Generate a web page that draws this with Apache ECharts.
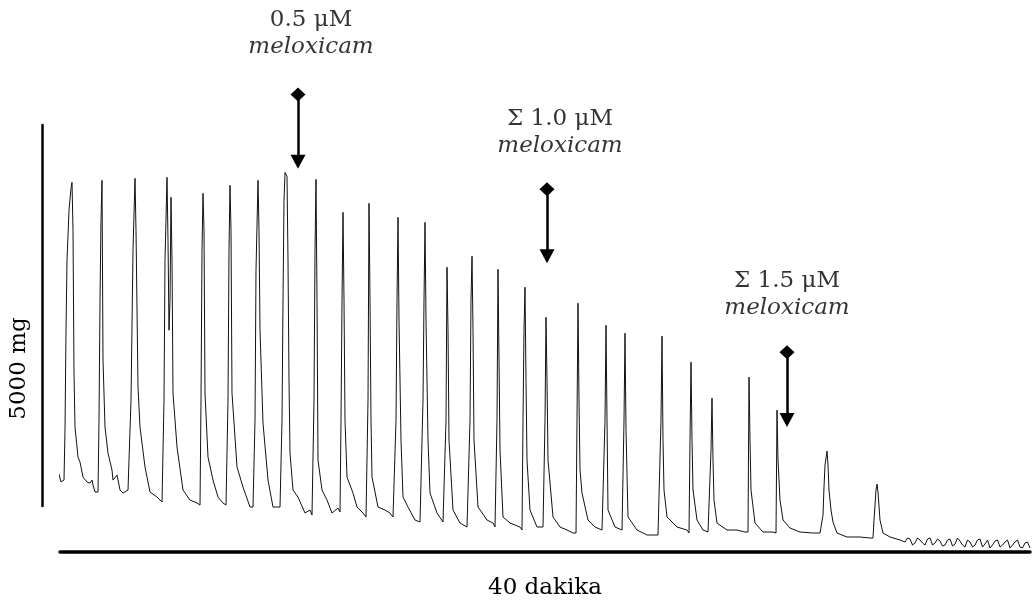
<!DOCTYPE html>
<html>
<head>
<meta charset="utf-8">
<script src="https://cdn.jsdelivr.net/npm/echarts@6/dist/echarts.min.js"></script>
<style>
html,body{margin:0;padding:0;background:#fff;}
#chart{width:1033px;height:609px;}
</style>
</head>
<body>
<div id="chart"></div>
<script>
// Isometric tension trace: [time (s), force (mg)]
const trace = [
[-7.5,962],[-2.5,1014],[2.5,910],[7.5,897],
[10,936],[12.5,1586],[15,2886],[17.5,3796],[22.5,4446],[27.5,4732],[30,4810],[32.5,4186],[35,2327],[37.5,1625],[45,1235],[50,1170],[57.5,975],[67.5,910],[75,897],[80,936],[82.5,871],[87.5,780],[92.5,780],
[95,780],[97.5,1716],[100,3276],[102.5,4316],[105,4836],[107.5,2496],[112.5,1625],[120,1287],[130,1066],[132.5,936],[142.5,1001],[150,806],[157.5,767],[170,806],
[175,806],[177.5,1976],[182.5,3926],[187.5,4862],[190,4186],[195,2145],[200,1625],[212.5,1105],[225,780],[242.5,715],[255,650],
[257.5,676],[260,1976],[262.5,3796],[267.5,4875],[270,4056],[272.5,2886],[275,3276],[277.5,4615],[280,3796],[282.5,2067],[292.5,1365],[307.5,806],[325,676],[342.5,637],
[350,611],[352.5,1976],[355,3926],[357.5,4667],[360,4186],[362.5,2067],[370,1235],[382.5,936],[395,715],[407.5,637],[415,611],
[417.5,611],[420,1976],[422.5,3926],[425,4771],[427.5,4186],[430,2067],[442.5,1105],[457.5,845],[475,585],[482.5,585],
[485,611],[487.5,1716],[490,3666],[495,4836],[497.5,4186],[500,2886],[507.5,1677],[520,936],[532.5,585],[550,585],
[552.5,585],[555,1716],[557.5,3276],[560,4576],[562.5,4940],[567.5,4888],[570,3796],[572.5,2236],[575,1287],[582.5,806],[595,715],[612.5,507],[625,546],[630,481],
[632.5,507],[635,1976],[637.5,3926],[640,4849],[642.5,3276],[645,1196],[655,806],[667.5,676],[680,507],[695,572],[700,520],
[702.5,1716],[705,3276],[707.5,4420],[710,3276],[712.5,1716],[717.5,975],[732.5,767],[742.5,585],[757.5,507],[765,455],
[767.5,455],[770,1976],[772.5,4537],[775,3276],[777.5,1716],[780,975],[795,585],[812.5,546],[825,507],[832.5,455],
[837.5,442],[840,1716],[842.5,3276],[845,4355],[847.5,3016],[852.5,1456],[857.5,715],[870,585],[887.5,416],[900,390],
[905,390],[907.5,1976],[910,3276],[912.5,4290],[915,3016],[920,1456],[925,767],[942.5,507],[957.5,390],
[962.5,390],[965,1716],[967.5,3705],[970,2886],[972.5,1456],[982.5,546],[1000,377],[1017.5,325],
[1022.5,325],[1025,1716],[1027.5,3276],[1030,3848],[1032.5,2886],[1035,1456],[1045,585],[1067.5,416],[1082.5,377],[1087.5,325],
[1090,325],[1092.5,1716],[1095,3679],[1097.5,2496],[1100,1326],[1107.5,455],[1125,377],[1150,325],
[1155,286],[1157.5,1716],[1160,2886],[1162.5,3445],[1165,2236],[1167.5,1196],[1175,546],[1192.5,325],[1207.5,325],
[1210,325],[1212.5,1716],[1215,3055],[1217.5,2236],[1220,1196],[1232.5,455],[1250,325],[1267.5,286],[1282.5,247],
[1290,247],[1292.5,1716],[1295,3237],[1297.5,1976],[1300,1066],[1305,767],[1320,416],[1337.5,325],[1355,286],
[1360,286],[1362.5,1716],[1365,2951],[1367.5,1716],[1370,546],[1387.5,325],[1405,286],
[1407.5,286],[1410,1716],[1412.5,2847],[1415,1586],[1420,455],[1442.5,286],[1467.5,221],[1495,221],
[1500,221],[1502.5,1716],[1505,2808],[1507.5,1456],[1510,806],[1517.5,455],[1542.5,325],[1567.5,286],
[1572.5,247],[1575,1456],[1577.5,2470],[1580,1456],[1582.5,806],[1592.5,416],[1607.5,286],[1620,260],
[1625,260],[1627.5,1326],[1630,2002],[1632.5,1196],[1635,676],[1642.5,377],[1667.5,286],[1692.5,286],[1712.5,260],
[1720,260],[1722.5,2275],[1725,1456],[1727.5,806],[1737.5,377],[1757.5,260],[1782.5,260],
[1790,247],[1792.5,1846],[1795,1196],[1800,676],[1807.5,416],[1825,312],[1850,260],[1882.5,247],[1900,247],
[1902.5,247],[1907.5,481],[1910,845],[1912.5,1131],[1917.5,1313],[1920,1131],[1922.5,806],[1927.5,546],[1932.5,390],[1942.5,247],[1967.5,195],[2000,195],[2025,182],
[2032.5,182],[2035,416],[2040,806],[2042.5,884],[2045,780],[2050,416],[2057.5,247],[2075,195],[2100,156],
[2112.5,130],[2118.75,182],[2125,169],[2131.25,91],[2137.5,117],[2143.75,182],[2150,156],[2156.25,117],[2162.5,91],[2168.75,169],
[2175,182],[2181.25,91],[2187.5,117],[2193.75,169],[2200,143],[2206.25,78],[2212.5,91],[2218.75,156],[2225,169],[2231.25,78],
[2237.5,104],[2243.75,182],[2250,143],[2256.25,91],[2262.5,65],[2268.75,156],[2275,130],[2281.25,65],[2287.5,91],[2293.75,156],
[2300,169],[2306.25,65],[2312.5,104],[2318.75,156],[2325,52],[2331.25,91],[2337.5,143],[2343.75,156],[2350,65],[2356.25,91],
[2362.5,130],[2368.75,156],[2375,52],[2381.25,91],[2387.5,130],[2393.75,156],[2400,65],[2406.25,52],[2412.5,117],[2418.75,130],[2425,52]
];

// Drug additions
const doseText = ['0.5 μM', 'Σ 1.0 μM', 'Σ 1.5 μM'];
const drugName = 'meloxicam';
const arrowTime = [595, 1217.5, 1817.5];
const arrowTop = [5954, 4719, 2600];
const arrowEnd = [5077, 3848, 1716];
const labelTime = [627.5, 1250, 1817.5];
const labelForce = [6747, 5460, 3354];

const timeSpanLabel = '40 dakika';
const timeMax = 2425;
const forceMax = 7000;
const scaleBarLabel = '5000 mg';
const scaleBarValue = 5000;

const FONT = 'DejaVu Serif';

const chart = echarts.init(document.getElementById('chart'), null, {renderer: 'canvas'});

const arrowData = arrowTime.map((t, i) => [
  {coord: [t, arrowTop[i]], symbol: 'diamond'},
  {coord: [t, arrowEnd[i]], symbol: 'triangle'}
]);
const labelData = labelTime.map((t, i) => ({value: [t, labelForce[i]], dose: doseText[i]}));

chart.setOption({
  animation: false,
  backgroundColor: '#fff',
  grid: [
    {left: 60, right: 3, top: 14, bottom: 57},
    {left: 42, width: 10, top: 125, bottom: 103}
  ],
  xAxis: [
    {
      gridIndex: 0, type: 'value', min: 0, max: timeMax,
      axisLine: {show: true, lineStyle: {color: '#000', width: 3.5}},
      axisTick: {show: false}, axisLabel: {show: false}, splitLine: {show: false},
      name: timeSpanLabel, nameLocation: 'middle', nameGap: 25,
      nameTextStyle: {fontFamily: FONT, fontSize: 23, color: '#000'}
    },
    {gridIndex: 1, type: 'value', show: false, min: 0, max: 1}
  ],
  yAxis: [
    {
      gridIndex: 0, type: 'value', min: 0, max: forceMax, show: false
    },
    {
      gridIndex: 1, type: 'value', min: 0, max: scaleBarValue,
      axisLine: {show: true, onZero: false, lineStyle: {color: '#000', width: 2.5}},
      axisTick: {show: false}, axisLabel: {show: false}, splitLine: {show: false},
      name: scaleBarLabel, nameLocation: 'middle', nameGap: 11,
      nameTextStyle: {fontFamily: FONT, fontSize: 23, color: '#000', padding: [0, 106, 0, 0]}
    }
  ],
  series: [
    {
      type: 'line', xAxisIndex: 0, yAxisIndex: 0,
      data: trace, showSymbol: false, symbol: 'none', clip: false,
      lineStyle: {color: '#111', width: 1},
      silent: true,
      markLine: {
        silent: true, animation: false,
        symbol: ['diamond', 'triangle'], symbolSize: [15, 14],
        lineStyle: {color: '#000', width: 2.5, type: 'solid'},
        itemStyle: {color: '#000'},
        label: {show: false},
        data: arrowData
      }
    },
    {
      type: 'scatter', xAxisIndex: 0, yAxisIndex: 0,
      data: labelData, symbolSize: 1, silent: true,
      itemStyle: {color: 'transparent'},
      label: {
        show: true, position: 'inside',
        formatter: p => '{a|' + p.data.dose + '}\n{b|' + drugName + '}',
        rich: {
          a: {fontFamily: FONT, fontSize: 23, color: '#000', lineHeight: 27, align: 'center'},
          b: {fontFamily: FONT, fontSize: 23, fontStyle: 'italic', color: '#000', lineHeight: 27, align: 'center'}
        }
      }
    }
  ]
});
</script>
</body>
</html>
